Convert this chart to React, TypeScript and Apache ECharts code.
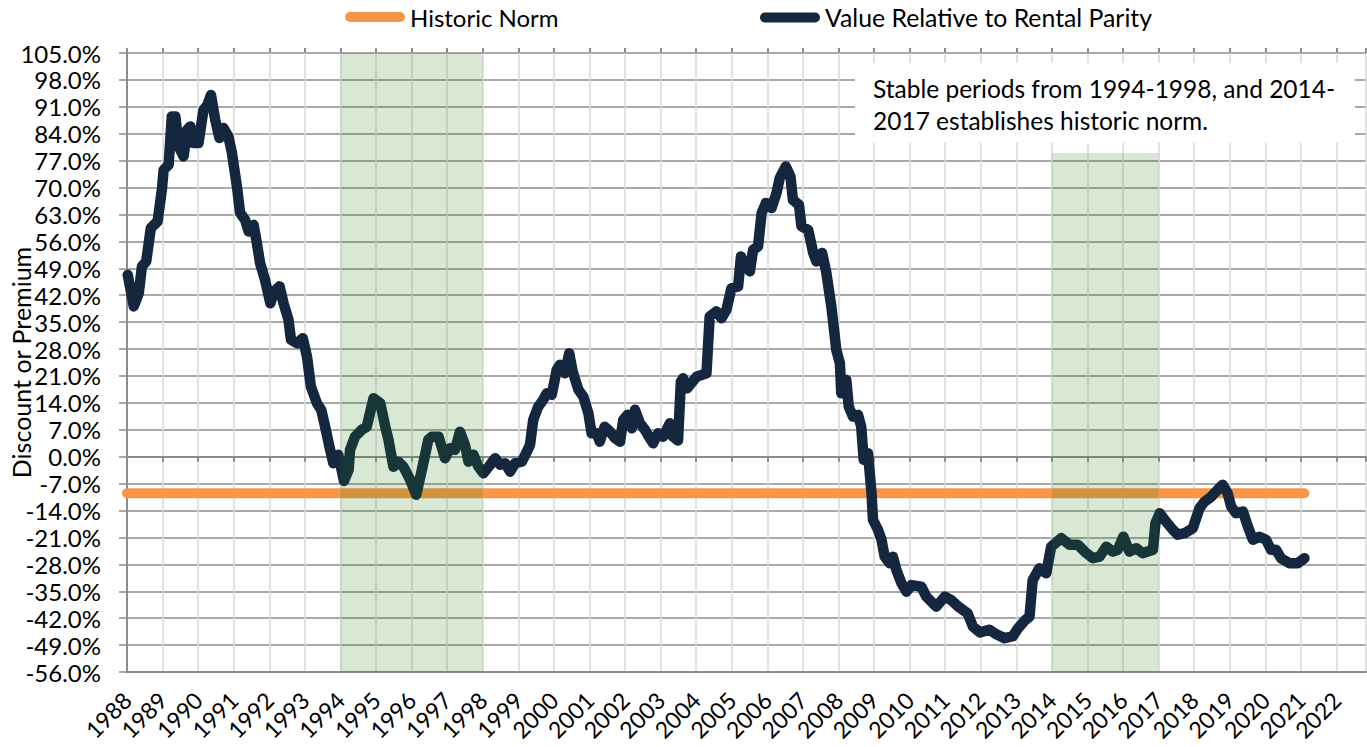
import React, { useEffect, useRef } from "react";
import * as echarts from "echarts";

const yearTicksMin = 1988;
const yearTicksMax = 2022.83;
const yMin = -56;
const yMax = 105;
const yStep = 7;

const historicNorm = -9.5;
const normStart = 1988;
const normEnd = 2021.1;

const stablePeriod1 = [1994, 1998];
const stablePeriod2 = [2014, 2017];
const stableTop2 = 79;

const years = [
  1988.02, 1988.19, 1988.33, 1988.42, 1988.54, 1988.67, 1988.86, 1988.98, 1989.03, 1989.17,
  1989.26, 1989.36, 1989.45, 1989.59, 1989.69, 1989.78, 1989.87, 1990.01, 1990.15, 1990.26,
  1990.36, 1990.48, 1990.6, 1990.71, 1990.85, 1990.95, 1991.09, 1991.18, 1991.32, 1991.42,
  1991.56, 1991.65, 1991.74, 1991.88, 1992.03, 1992.14, 1992.29, 1992.4, 1992.54, 1992.61,
  1992.78, 1992.94, 1993.06, 1993.17, 1993.34, 1993.46, 1993.57, 1993.69, 1993.8, 1993.94,
  1994.1, 1994.23, 1994.27, 1994.41, 1994.6, 1994.74, 1994.93, 1995.12, 1995.26, 1995.35,
  1995.49, 1995.63, 1995.77, 1995.96, 1996.13, 1996.29, 1996.47, 1996.57, 1996.76, 1996.94,
  1997.08, 1997.22, 1997.36, 1997.5, 1997.6, 1997.74, 1997.88, 1998.02, 1998.21, 1998.35,
  1998.49, 1998.63, 1998.77, 1998.91, 1999.1, 1999.24, 1999.33, 1999.42, 1999.56, 1999.7,
  1999.8, 1999.94, 2000.08, 2000.17, 2000.31, 2000.43, 2000.53, 2000.69, 2000.83, 2000.97,
  2001.06, 2001.2, 2001.29, 2001.43, 2001.58, 2001.72, 2001.86, 2001.95, 2002.07, 2002.19,
  2002.28, 2002.42, 2002.56, 2002.7, 2002.79, 2002.93, 2003.07, 2003.26, 2003.35, 2003.49,
  2003.57, 2003.63, 2003.75, 2004.01, 2004.29, 2004.38, 2004.57, 2004.71, 2004.85, 2004.99,
  2005.18, 2005.26, 2005.37, 2005.51, 2005.6, 2005.74, 2005.84, 2005.96, 2006.12, 2006.26,
  2006.35, 2006.52, 2006.65, 2006.72, 2006.89, 2006.96, 2007.15, 2007.29, 2007.38, 2007.54,
  2007.66, 2007.8, 2007.94, 2008.04, 2008.08, 2008.22, 2008.29, 2008.41, 2008.55, 2008.64,
  2008.71, 2008.83, 2008.93, 2008.97, 2009.11, 2009.21, 2009.3, 2009.44, 2009.53, 2009.63,
  2009.77, 2009.91, 2010.05, 2010.33, 2010.47, 2010.75, 2010.99, 2011.17, 2011.37, 2011.63,
  2011.78, 2011.98, 2012.24, 2012.44, 2012.67, 2012.9, 2013.05, 2013.25, 2013.37, 2013.46,
  2013.65, 2013.84, 2013.98, 2014.26, 2014.5, 2014.73, 2014.97, 2015.15, 2015.34, 2015.53,
  2015.71, 2015.85, 2016.01, 2016.18, 2016.37, 2016.55, 2016.84, 2016.91, 2017.03, 2017.21,
  2017.4, 2017.54, 2017.73, 2017.96, 2018.15, 2018.29, 2018.48, 2018.66, 2018.8, 2018.94,
  2019.04, 2019.18, 2019.37, 2019.51, 2019.65, 2019.83, 2020.02, 2020.16, 2020.3, 2020.44,
  2020.68, 2020.91, 2021.1,
];

const values = [
  47.3, 39.1, 42.5, 49.5, 50.8, 59.5, 61.2, 69.4, 74.6, 75.9,
  88.5, 88.5, 80.7, 78.1, 85.0, 85.9, 81.6, 81.6, 90.2, 91.5,
  94.1, 87.6, 82.9, 85.5, 83.3, 79.0, 70.3, 63.4, 61.6, 58.6,
  60.3, 55.6, 50.4, 46.0, 39.9, 43.0, 44.3, 39.9, 35.6, 30.4,
  29.5, 30.8, 26.0, 18.2, 13.9, 12.2, 7.8, 2.6, -1.7, 0.5,
  -6.3, -3.4, 1.8, 5.2, 7.0, 7.8, 15.2, 13.9, 7.8, 4.4,
  -2.6, -1.3, -2.6, -6.0, -9.9, -3.4, 4.4, 5.2, 5.2, -0.4,
  2.2, 1.8, 6.5, 3.1, -1.3, 0.5, -2.6, -4.3, -2.1, -0.4,
  -2.1, -1.7, -3.9, -1.7, -1.3, 1.3, 3.1, 9.6, 13.0, 14.8,
  16.5, 16.1, 22.6, 23.9, 21.7, 26.9, 22.1, 17.4, 15.6, 11.3,
  6.1, 6.1, 3.9, 7.8, 6.5, 4.8, 3.9, 9.6, 10.9, 7.4,
  12.2, 8.7, 7.0, 4.8, 3.5, 6.1, 5.2, 8.7, 5.2, 4.2,
  19.5, 20.4, 17.8, 20.8, 21.7, 36.5, 37.8, 36.0, 38.2, 43.8,
  44.3, 52.1, 49.9, 48.2, 53.8, 54.7, 63.4, 66.0, 64.7, 68.6,
  72.5, 75.5, 72.9, 66.8, 65.5, 59.9, 59.0, 53.0, 50.8, 53.0,
  47.8, 39.1, 27.8, 24.3, 16.5, 20.0, 13.0, 10.4, 10.9, 7.8,
  -0.8, 0.9, -9.5, -16.4, -19.0, -21.6, -26.0, -27.7, -26.0, -29.5,
  -32.9, -35.1, -33.4, -33.8, -36.4, -39.0, -36.4, -37.3, -39.0, -40.7,
  -44.2, -45.7, -45.0, -46.2, -47.2, -46.7, -44.6, -42.5, -41.6, -32.1,
  -29.0, -30.3, -23.4, -21.2, -22.9, -22.9, -25.1, -26.4, -26.0, -23.4,
  -24.7, -24.2, -20.8, -24.7, -23.8, -25.1, -24.2, -17.3, -14.7, -16.9,
  -19.0, -20.3, -19.9, -18.6, -13.4, -11.7, -10.4, -8.6, -7.3, -9.5,
  -13.0, -14.7, -14.3, -18.2, -21.6, -20.8, -21.6, -24.2, -24.2, -26.4,
  -27.7, -27.7, -26.4,
];

const seriesNames = ["Historic Norm", "Value Relative to Rental Parity"];
const yAxisTitle = "Discount or Premium";
const noteText = "Stable periods from 1994-1998, and 2014-\n2017 establishes historic norm.";

const FONT = "Lato";
const NAVY = "#14273f";
const ORANGE = "#f79646";
const GRID_DARK = "#8c8c8c";
const GRID_LIGHT = "#d9d9d9";
const BAND = "rgba(40,130,20,0.18)";

const pillIcon = "path://M5,0 L55,0 A5,5 0 0 1 55,10 L5,10 A5,5 0 0 1 5,0 Z";

export default function App() {
  const ref = useRef<HTMLDivElement>(null);

  useEffect(() => {
    document.body.style.margin = "0";
    if (!ref.current) return;
    const chart = echarts.init(ref.current, null, { renderer: "svg" });

    const lineData = years.map((y, i) => [y, values[i]]);
    const normData = [
      [normStart, historicNorm],
      [normEnd, historicNorm],
    ];

    const yearFmt = (v: number) => (Math.abs(v - Math.round(v)) < 1e-6 ? String(Math.round(v)) : "");

    chart.setOption({
      animation: false,
      textStyle: { fontFamily: FONT, color: "#000" },
      grid: { left: 127, top: 53, right: 1, bottom: 75, containLabel: false, outerBoundsMode: "none" },
      legend: [
        {
          data: [{ name: seriesNames[0], icon: pillIcon }],
          left: 345,
          top: 5,
          itemWidth: 60,
          itemHeight: 10,
          padding: 0,
          textStyle: { fontFamily: FONT, fontSize: 24, color: "#000" },
        },
        {
          data: [{ name: seriesNames[1], icon: pillIcon }],
          left: 760,
          top: 5,
          itemWidth: 60,
          itemHeight: 10,
          padding: 0,
          textStyle: { fontFamily: FONT, fontSize: 24.8, color: "#000" },
        },
      ],
      xAxis: [
        {
          type: "value",
          min: yearTicksMin,
          max: yearTicksMax,
          interval: 1,
          position: "bottom",
          axisLine: { onZero: false, show: true, lineStyle: { color: GRID_DARK, width: 2 } },
          axisTick: { show: false },
          axisLabel: {
            rotate: 45,
            margin: 24,
            fontSize: 23,
            fontFamily: FONT,
            color: "#000",
            formatter: yearFmt,
            showMaxLabel: false,
          },
          splitLine: { show: true, lineStyle: { color: GRID_LIGHT, width: 1.5 } },
        },
        {
          type: "value",
          min: yearTicksMin,
          max: yearTicksMax,
          interval: 1,
          position: "bottom",
          axisLine: { onZero: true, show: true, lineStyle: { color: GRID_DARK, width: 2 } },
          axisTick: { show: true, length: 5, lineStyle: { color: GRID_DARK, width: 2 } },
          axisLabel: { show: false },
          splitLine: { show: false },
        },
        {
          type: "value",
          min: yearTicksMin,
          max: yearTicksMax,
          interval: 1,
          position: "top",
          axisLine: { onZero: true, show: false },
          axisTick: { show: true, length: 5, lineStyle: { color: GRID_DARK, width: 2 } },
          axisLabel: { show: false },
          splitLine: { show: false },
        },
      ],
      yAxis: {
        type: "value",
        min: yMin,
        max: yMax,
        interval: yStep,
        name: yAxisTitle,
        nameLocation: "middle",
        nameGap: 94,
        nameMoveOverlap: false,
        nameTextStyle: { fontFamily: FONT, fontSize: 25, color: "#000" },
        axisLine: { show: true, lineStyle: { color: GRID_DARK, width: 2 } },
        axisTick: { show: true, length: 8, lineStyle: { color: GRID_DARK, width: 1.5 } },
        axisLabel: {
          margin: 26,
          fontSize: 24,
          fontFamily: FONT,
          color: "#000",
          formatter: (v: number) => v.toFixed(1) + "%",
        },
        splitLine: { show: true, lineStyle: { color: GRID_DARK, width: 1.5 } },
      },
      series: [
        {
          name: seriesNames[0],
          type: "line",
          data: normData,
          showSymbol: false,
          color: ORANGE,
          lineStyle: { color: ORANGE, width: 10, cap: "round" },
          z: 2,
        },
        {
          name: seriesNames[1],
          type: "line",
          data: lineData,
          showSymbol: false,
          color: NAVY,
          lineStyle: { color: NAVY, width: 10.5, cap: "round", join: "round" },
          z: 3,
          markArea: {
            silent: true,
            z: 10,
            itemStyle: { color: BAND },
            data: [
              [{ xAxis: stablePeriod1[0], yAxis: yMin }, { xAxis: stablePeriod1[1], yAxis: yMax }],
              [{ xAxis: stablePeriod2[0], yAxis: yMin }, { xAxis: stablePeriod2[1], yAxis: stableTop2 }],
            ],
          },
        },
      ],
      graphic: [
        {
          type: "rect",
          left: 855,
          top: 63,
          shape: { width: 500, height: 80 },
          style: { fill: "#fff" },
          z: 50,
        },
        {
          type: "text",
          left: 873,
          top: 72,
          style: {
            text: noteText,
            fontFamily: FONT,
            fontSize: 24.5,
            lineHeight: 32,
            fill: "#000",
          },
          z: 51,
        },
      ],
    });

    return () => chart.dispose();
  }, []);

  return <div ref={ref} style={{ width: "1367px", height: "747px" }} />;
}
